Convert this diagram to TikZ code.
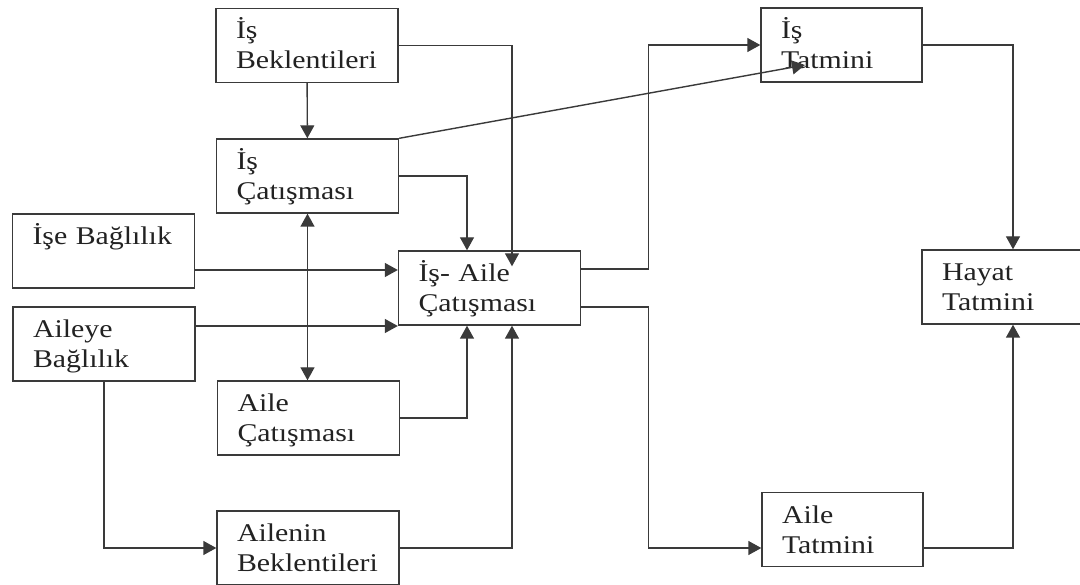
\documentclass[tikz,border=0pt]{standalone}
\usepackage{fontspec}
\setmainfont{Liberation Serif}[FakeStretch=1.17]
\usetikzlibrary{arrows.meta,positioning}
\definecolor{linegray}{HTML}{3A3A3A}
\definecolor{textgray}{HTML}{222222}

\begin{document}
\begin{tikzpicture}[x=1pt,y=-1pt,>={Triangle[length=13pt,width=14pt]},
    box/.style={draw=linegray,line width=1.4pt,text=textgray,align=left,text width=142pt,
      inner xsep=20pt,inner ysep=0pt,text height=30.5pt,text depth=43.5pt,
      font=\fontsize{25.5}{30}\selectfont},
    arr/.style={draw=linegray,line width=1.4pt,->}]
        \fill[white] (0,0) rectangle (1080,585);
        \useasboundingbox (0,0) rectangle (1080,585);

        \node[box] (isBek) at (307,45.5) {İş\\Beklentileri};
        \node[box] (isCat) at (307.5,176) {İş\\Çatışması};
        \node[box] (iseBag) at (103.5,251) {İşe Bağlılık};
        \node[box] (aileyeBag) at (104,344) {Aileye\\Bağlılık};
        \node[box] (isAile) at (489.5,288) {İş- Aile\\Çatışması};
        \node[box] (aileCat) at (308.5,418) {Aile\\Çatışması};
        \node[box] (ailenBek) at (308,548) {Ailenin\\Beklentileri};
        \node[box,text width=121pt] (isTat) at (841.5,45) {İş\\Tatmini};
        \node[box] (hayatTat) at (1013,287) {Hayat\\Tatmini};
        \node[box,text width=121pt] (aileTat) at (842.5,529.5) {Aile\\Tatmini};

        \draw[arr] (isBek) -- (isCat);
        \draw[arr] (isBek.east) -| ([xshift=22.5pt,yshift=-16pt]isAile.north);
        \draw[arr] (isCat.east) -| ([xshift=-22.5pt]isAile.north);
        \draw[arr] (isCat.north east) -- ([xshift=-36.5pt,yshift=-20pt]isTat.center);
        \draw[arr] ([yshift=-19pt]iseBag.east) -- ([yshift=-19pt]iseBag.east -| isAile.west);
        \draw[arr] ([yshift=18pt]aileyeBag.east) -- ([yshift=18pt]aileyeBag.east -| isAile.west);
        \draw[arr,<->] (isCat.south) -- (isCat.south |- aileCat.north);
        \draw[arr] (aileCat.east) -| ([xshift=-22.5pt]isAile.south);
        \draw[arr] (aileyeBag.south) |- (ailenBek.west);
        \draw[arr] (ailenBek.east) -| ([xshift=22.5pt]isAile.south);
        \draw[arr] ([yshift=19pt]isAile.east) -- ++(67,0) |- (isTat.west);
        \draw[arr] ([yshift=-19pt]isAile.east) -- ++(67,0) |- ([yshift=-18.5pt]aileTat.west);
        \draw[arr] (isTat.east) -| (hayatTat.north);
        \draw[arr] ([yshift=-18.5pt]aileTat.east) -| (hayatTat.south);
      \end{tikzpicture}
\end{document}
